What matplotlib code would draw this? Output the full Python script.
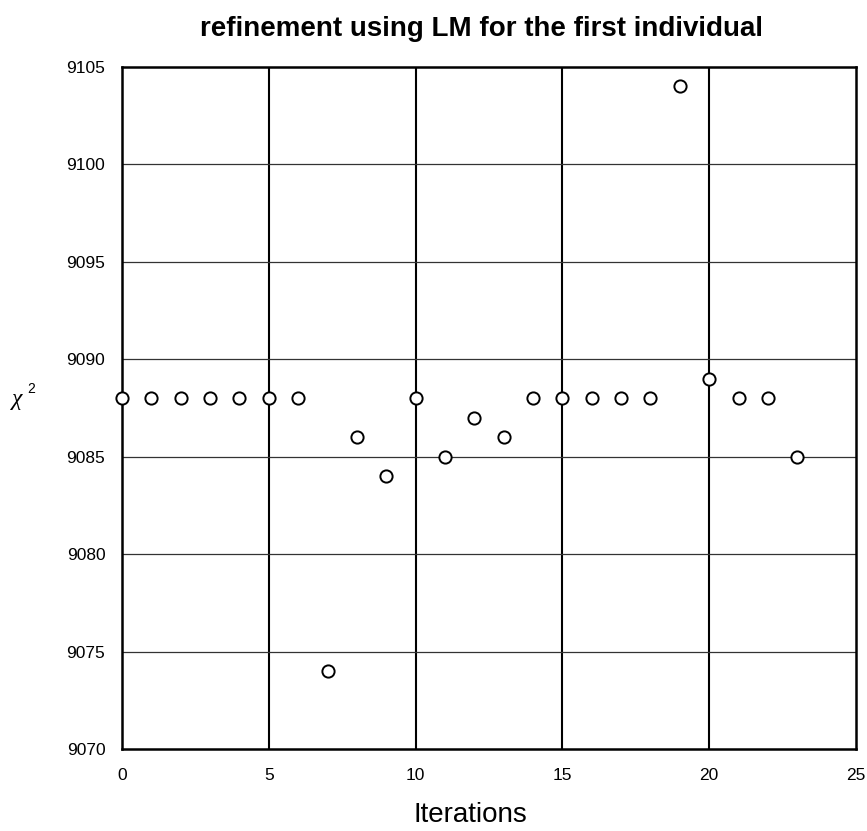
import matplotlib
matplotlib.use("Agg")
import matplotlib.pyplot as plt

iterations = list(range(24))
chi2 = [9088, 9088, 9088, 9088, 9088, 9088, 9088, 9074, 9086, 9084,
        9088, 9085, 9087, 9086, 9088, 9088, 9088, 9088, 9088, 9104,
        9089, 9088, 9088, 9085]
xticks = [0, 5, 10, 15, 20, 25]
yticks = [9070, 9075, 9080, 9085, 9090, 9095, 9100, 9105]

plt.rcParams["font.family"] = ["Liberation Sans", "DejaVu Sans"]

W, H = 867, 831
fig = plt.figure(figsize=(W / 100, H / 100), dpi=100)
ax = fig.add_axes([122 / W, 1 - 749 / H, (856 - 122) / W, (749 - 67) / H])

ax.plot(iterations, chi2, "o", ls="none", mfc="white", mec="black",
        ms=8.8, mew=1.4, clip_on=False, zorder=5)

ax.set_xlim(0, 25)
ax.set_ylim(9070, 9105)
ax.set_xticks(xticks)
ax.set_yticks(yticks)
ax.tick_params(length=0, labelsize=12.5)
ax.tick_params(axis="x", pad=14)
ax.tick_params(axis="y", pad=12)

# vertical grid is heavy, horizontal grid lighter
for x in xticks[1:-1]:
    ax.axvline(x, color="black", lw=1.5, zorder=1)
for y in yticks[1:-1]:
    ax.axhline(y, color="#333333", lw=0.9, zorder=1)

for s in ax.spines.values():
    s.set_linewidth(1.8)

ax.set_title("refinement using LM for the first individual", fontsize=20,
             fontweight="bold", pad=22, x=0.49)
ax.set_xlabel("Iterations", fontsize=20)
ax.xaxis.set_label_coords(0.474, (749 - 815) / (749 - 67))
ax.xaxis.label.set_va("center")

fig.text(12 / W, 1 - 400 / H, "χ", fontsize=17, ha="left", va="center",
         family="Liberation Serif", style="italic")
fig.text(27 / W, 1 - 389 / H, "2", fontsize=10, ha="left", va="center")

fig.savefig("out.png", dpi=100)
